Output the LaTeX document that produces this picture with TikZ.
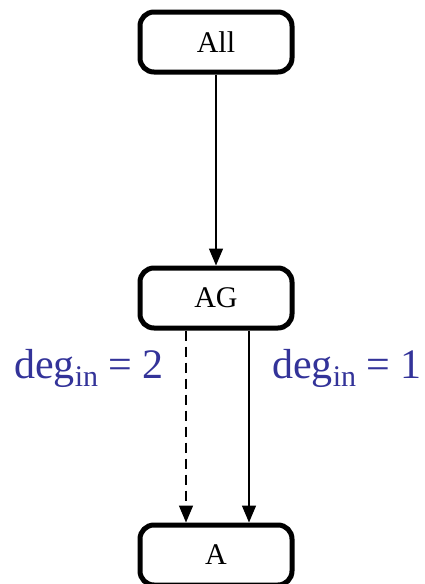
\documentclass[tikz,border=0pt]{standalone}
\usepackage{fontspec}
\setmainfont{Liberation Serif}
\usetikzlibrary{arrows.meta}
\definecolor{labelblue}{RGB}{51,51,153}
\newcommand{\degsub}{{\fontsize{30}{30}\selectfont\raisebox{-8pt}{in}}}
\begin{document}
\begin{tikzpicture}[x=1pt,y=1pt,
  box/.style={draw=black, line width=5pt, rounded corners=14pt, fill=white,
    minimum width=152pt, minimum height=60pt, inner sep=0pt,
    font=\fontsize{30}{30}\selectfont},
  conn/.style={line width=1.5pt, -{Triangle[length=17pt,width=14pt]}},
  lbl/.style={text=labelblue, font=\fontsize{42}{42}\selectfont, inner sep=0pt, anchor=base west}]
\useasboundingbox (0,0) rectangle (424,-584);
\node[box] (All) at (216,-42) {All};
\node[box] (AG) at (216,-298) {AG};
\node[box] (A) at (216,-555) {A};
\draw[conn] (All) -- (AG);
\draw[conn, dash pattern=on 10pt off 6pt] ([xshift=-30pt]AG.south) -- ([xshift=-30pt]A.north);
\draw[conn] ([xshift=33pt]AG.south) -- ([xshift=33pt]A.north);
\node[lbl] (l2) at (14,-378) {deg\degsub\ = 2};
\node[lbl] (l1) at (272,-378) {deg\degsub\ = 1};
\end{tikzpicture}
\end{document}
